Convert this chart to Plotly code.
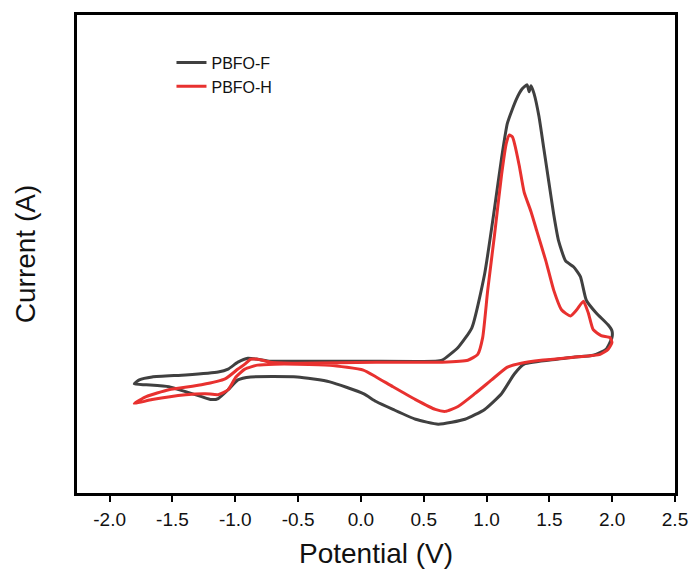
import plotly.graph_objects as go

# PBFO-F cyclic voltammogram (potential in V, current in arbitrary units)
f_potential = [-1.804, -1.764, -1.662, -1.395, -1.136, -1.057, -0.979, -0.900, -0.822, -0.720,
               -0.507, 0.019, 0.592, 0.647, 0.773, 0.883, 0.985, 1.064, 1.119, 1.166,
               1.236, 1.284, 1.323, 1.339, 1.354, 1.378, 1.417, 1.456, 1.496, 1.535,
               1.574, 1.629, 1.692, 1.747, 1.794, 1.873, 1.967, 1.998, 1.998, 1.951,
               1.849, 1.692, 1.559, 1.299, 1.221, 1.119, 0.985, 0.828, 0.616, 0.435,
               0.255, 0.121, 0.019, -0.248, -0.507, -0.877, -0.979, -1.057, -1.136, -1.191,
               -1.269, -1.395, -1.529, -1.709, -1.804]
f_current = [-0.22, -0.18, -0.15, -0.13, -0.10, -0.07, 0.00, 0.04, 0.03, 0.01,
             0.01, 0.01, 0.01, 0.02, 0.15, 0.35, 0.90, 1.57, 2.07, 2.43,
             2.67, 2.78, 2.82, 2.75, 2.81, 2.73, 2.50, 2.17, 1.83, 1.50,
             1.23, 1.03, 0.97, 0.87, 0.63, 0.50, 0.38, 0.32, 0.25, 0.13,
             0.07, 0.05, 0.03, -0.02, -0.12, -0.32, -0.48, -0.58, -0.63, -0.58,
             -0.48, -0.40, -0.32, -0.20, -0.15, -0.15, -0.18, -0.28, -0.37, -0.38,
             -0.35, -0.30, -0.25, -0.23, -0.22]

# PBFO-H cyclic voltammogram
h_potential = [-1.804, -1.709, -1.529, -1.269, -1.081, -0.979, -0.924, -0.877, -0.822, -0.720,
               -0.507, 0.121, 0.647, 0.851, 0.930, 0.969, 1.009, 1.064, 1.119, 1.158,
               1.182, 1.206, 1.221, 1.260, 1.299, 1.354, 1.401, 1.472, 1.535, 1.598,
               1.668, 1.716, 1.771, 1.810, 1.849, 1.912, 1.983, 1.998, 1.967, 1.904,
               1.692, 1.433, 1.276, 1.166, 1.040, 0.907, 0.773, 0.671, 0.592, 0.435,
               0.255, 0.121, 0.019, -0.248, -0.507, -0.688, -0.822, -0.924, -0.995, -1.057,
               -1.136, -1.238, -1.395, -1.662, -1.804]
h_current = [-0.42, -0.35, -0.28, -0.23, -0.17, -0.07, -0.02, 0.03, 0.03, 0.00,
             -0.01, 0.00, 0.00, 0.02, 0.08, 0.25, 0.73, 1.30, 1.90, 2.23,
             2.31, 2.29, 2.23, 2.00, 1.73, 1.53, 1.33, 1.03, 0.73, 0.53,
             0.47, 0.53, 0.62, 0.50, 0.33, 0.27, 0.25, 0.20, 0.13, 0.08,
             0.05, 0.02, -0.01, -0.05, -0.18, -0.32, -0.45, -0.50, -0.48, -0.38,
             -0.25, -0.15, -0.08, -0.03, -0.02, -0.02, -0.03, -0.07, -0.15, -0.28,
             -0.33, -0.32, -0.33, -0.38, -0.42]

x_ticks = [-2.0, -1.5, -1.0, -0.5, 0.0, 0.5, 1.0, 1.5, 2.0, 2.5]
x_tick_text = ["-2.0", "-1.5", "-1.0", "-0.5", "0.0", "0.5", "1.0", "1.5", "2.0", "2.5"]

FONT = "Arial, Liberation Sans, sans-serif"
TXT = "#111111"

fig = go.Figure()
fig.add_trace(go.Scatter(x=f_potential, y=f_current, mode="lines", name="PBFO-F",
                         line=dict(color="#404040", width=3, shape="spline", smoothing=0.5)))
fig.add_trace(go.Scatter(x=h_potential, y=h_current, mode="lines", name="PBFO-H",
                         line=dict(color="#e8312f", width=3, shape="spline", smoothing=0.5)))

fig.update_layout(
    width=700, height=576,
    margin=dict(l=77, r=17, t=12, b=78),
    paper_bgcolor="white", plot_bgcolor="white",
    font=dict(family=FONT, color=TXT),
    showlegend=True,
    legend=dict(x=0.158, y=0.936, xanchor="left", yanchor="top",
                bgcolor="rgba(0,0,0,0)", font=dict(size=16, family=FONT, color=TXT)),
    xaxis=dict(range=[-2.26, 2.5], tickvals=x_ticks, ticktext=x_tick_text,
               showgrid=False, zeroline=False, showline=True, linecolor="black", linewidth=2.5,
               mirror=True, ticks="outside", ticklen=6, tickwidth=2, tickcolor="black",
               ticklabelstandoff=1,
               tickfont=dict(size=19, family=FONT, color=TXT),
               title=dict(text="Potential (V)", font=dict(size=28, family=FONT, color=TXT),
                          standoff=15)),
    yaxis=dict(range=[-1.33, 3.53], showticklabels=False, ticks="",
               showgrid=False, zeroline=False, showline=True, linecolor="black", linewidth=2.5,
               mirror=True,
               title=dict(text="Current (A)", font=dict(size=28, family=FONT, color=TXT),
                          standoff=31)),
)

fig.write_html("out.html", config={"displayModeBar": False},
               post_script="document.body.style.margin='0';")
